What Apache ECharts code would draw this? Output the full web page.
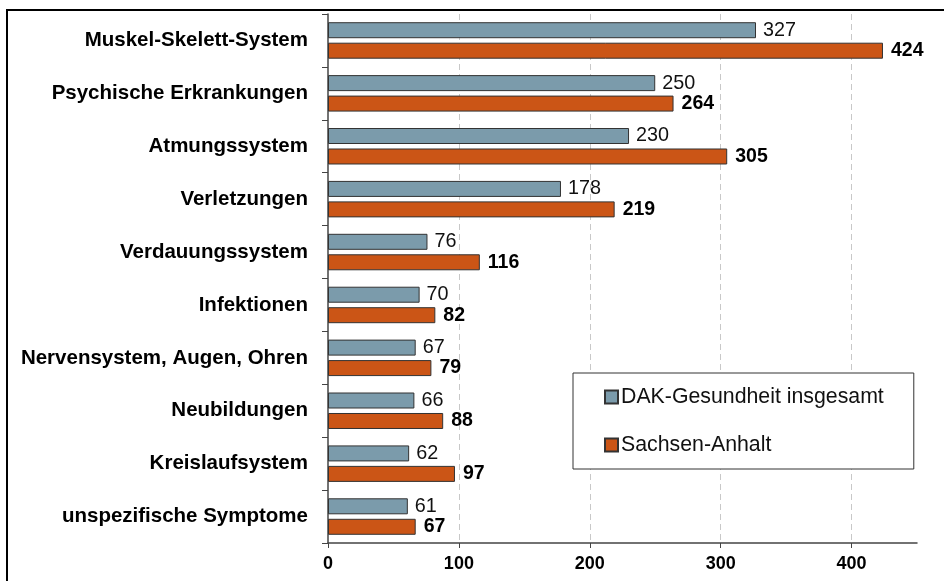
<!DOCTYPE html>
<html>
<head>
<meta charset="utf-8">
<script src="https://cdn.jsdelivr.net/npm/echarts@6/dist/echarts.min.js"></script>
<style>
  html, body { margin: 0; padding: 0; background: #fff; }
  #chart { width: 944px; height: 581px; }
</style>
</head>
<body>
<div id="chart"></div>
<script>
// categories top to bottom
var categories = [
  'Muskel-Skelett-System',
  'Psychische Erkrankungen',
  'Atmungssystem',
  'Verletzungen',
  'Verdauungssystem',
  'Infektionen',
  'Nervensystem, Augen, Ohren',
  'Neubildungen',
  'Kreislaufsystem',
  'unspezifische Symptome'
];
var dakValues = [327, 250, 230, 178, 76, 70, 67, 66, 62, 61];
var sachsenValues = [424, 264, 305, 219, 116, 82, 79, 88, 97, 67];
var seriesNames = ['DAK-Gesundheit insgesamt', 'Sachsen-Anhalt'];

var chart = echarts.init(document.getElementById('chart'));

var font = 'Liberation Sans, Arial, sans-serif';

var option = {
  animation: false,
  textStyle: { fontFamily: font },
  graphic: [{
    type: 'rect',
    shape: { x: 7, y: 10, width: 1000, height: 1000 },
    style: { fill: 'none', stroke: '#000', lineWidth: 2 },
    silent: true
  }],
  grid: { left: 328, top: 14, right: 27, bottom: 38 },
  legend: {
    orient: 'vertical',
    left: 573,
    top: 373,
    padding: [12, 30, 12, 31],
    itemGap: 24,
    itemWidth: 13,
    itemHeight: 13,
    icon: 'rect',
    backgroundColor: '#fff',
    borderColor: '#333',
    borderWidth: 1,
    borderRadius: 0,
    textStyle: { fontFamily: font, fontSize: 21.3, color: '#111', lineHeight: 24, padding: [0, 0, 0, -2] },
    data: seriesNames
  },
  xAxis: {
    type: 'value',
    min: 0,
    max: 450,
    interval: 100,
    axisLine: { show: true, lineStyle: { color: '#444', width: 1.5 } },
    axisTick: { show: true, length: 5, lineStyle: { color: '#444' } },
    axisLabel: {
      margin: 12,
      fontSize: 18,
      fontWeight: 'bold',
      color: '#000',
      fontFamily: font,
      showMaxLabel: false
    },
    splitLine: {
      show: true,
      showMinLine: false,
      showMaxLine: false,
      lineStyle: { color: '#c8c8c8', type: [6, 4], width: 1 }
    }
  },
  yAxis: {
    type: 'category',
    inverse: true,
    data: categories,
    axisLine: { show: true, lineStyle: { color: '#444', width: 1.5 } },
    axisTick: { show: true, length: 6, lineStyle: { color: '#444' } },
    axisLabel: {
      margin: 20,
      fontSize: 20.5,
      fontWeight: 'bold',
      color: '#000',
      fontFamily: font
    }
  },
  series: [{
    name: seriesNames[0],
    type: 'bar',
    data: dakValues,
    barWidth: 16,
    barGap: '28%',
    itemStyle: { color: '#7b9bab', borderColor: '#333', borderWidth: 1 },
    label: {
      show: true,
      position: 'right',
      distance: 7,
      fontSize: 19.8,
      color: '#111',
      fontFamily: font
    }
  }, {
    name: seriesNames[1],
    type: 'bar',
    data: sachsenValues,
    barWidth: 16,
    barGap: '28%',
    itemStyle: { color: '#cb5516', borderColor: '#333', borderWidth: 1 },
    label: {
      show: true,
      position: 'right',
      distance: 8,
      fontSize: 19.5,
      fontWeight: 'bold',
      color: '#000',
      fontFamily: font
    }
  }]
};

chart.setOption(option);
</script>
</body>
</html>
